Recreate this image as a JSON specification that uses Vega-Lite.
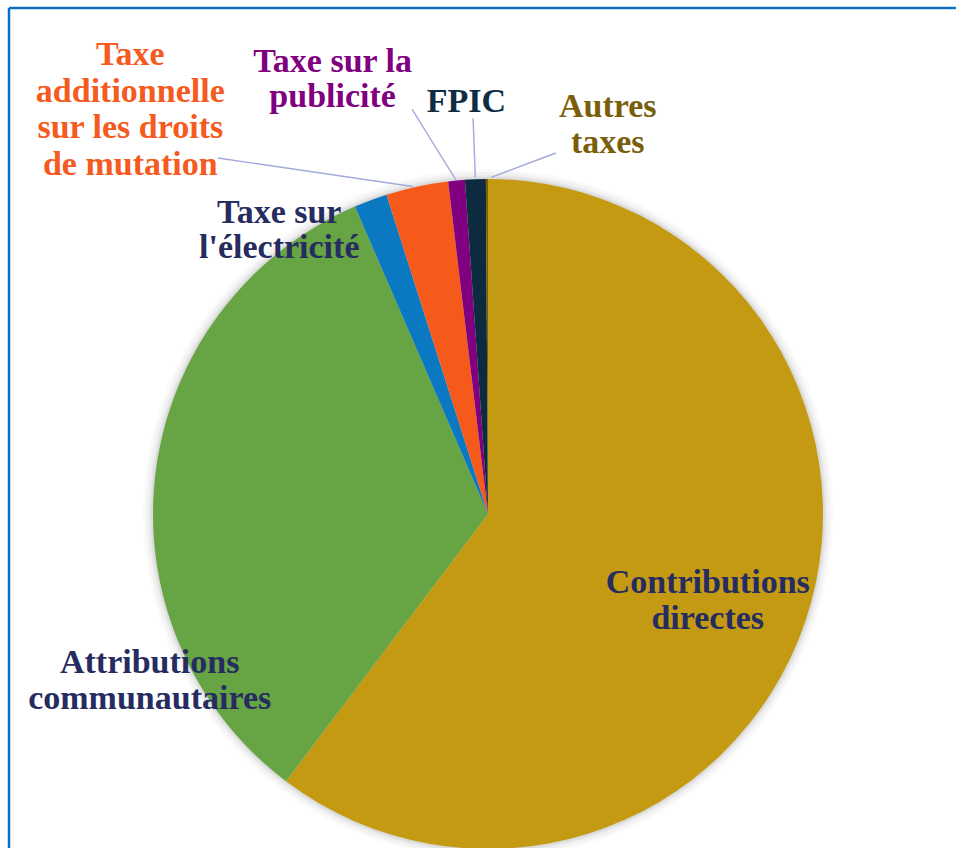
{
  "$schema": "https://vega.github.io/schema/vega-lite/v6.json",
  "width": 958,
  "height": 1012,
  "autosize": {"type": "none"},
  "padding": {"left": 9, "top": 8, "right": -11, "bottom": -172},
  "background": "white",
  "view": {"stroke": "#0B70C2", "strokeWidth": 2.5, "fill": null, "strokeDash": [947, 2153, 840, 0]},
  "data": {
    "values": [
      {"rang": 1, "categorie": "Contributions directes", "label": "Contributions\ndirectes", "part": 60.3},
      {"rang": 2, "categorie": "Attributions communautaires", "label": "Attributions\ncommunautaires", "part": 33.2},
      {"rang": 3, "categorie": "Taxe sur l'électricité", "label": "Taxe sur\nl'électricité", "part": 1.6},
      {"rang": 4, "categorie": "Taxe additionnelle sur les droits de mutation", "label": "Taxe\nadditionnelle\nsur les droits\nde mutation", "part": 3.0},
      {"rang": 5, "categorie": "Taxe sur la publicité", "label": "Taxe sur la\npublicité", "part": 0.8},
      {"rang": 6, "categorie": "FPIC", "label": "FPIC", "part": 1.0},
      {"rang": 7, "categorie": "Autres taxes", "label": "Autres\ntaxes", "part": 0.1}
    ]
  },
  "encoding": {
    "theta": {"field": "part", "type": "quantitative", "stack": true},
    "order": {"field": "rang", "type": "quantitative"},
    "detail": {"field": "categorie", "type": "nominal"}
  },
  "layer": [
    {"mark": {"type": "arc", "outerRadius": 345, "color": "#000000", "opacity": 0.02, "stroke": null}},
    {"mark": {"type": "arc", "outerRadius": 342, "color": "#000000", "opacity": 0.03, "stroke": null}},
    {"mark": {"type": "arc", "outerRadius": 339, "color": "#000000", "opacity": 0.04, "stroke": null}},
    {"mark": {"type": "arc", "outerRadius": 337, "color": "#000000", "opacity": 0.06, "stroke": null}},
    {
      "mark": {"type": "arc", "outerRadius": 335, "stroke": null},
      "encoding": {
        "color": {
          "field": "categorie",
          "type": "nominal",
          "legend": null,
          "scale": {
            "domain": ["Contributions directes", "Attributions communautaires", "Taxe sur l'électricité", "Taxe additionnelle sur les droits de mutation", "Taxe sur la publicité", "FPIC", "Autres taxes"],
            "range": ["#C49A13", "#67A443", "#0B79C1", "#F55A1B", "#800080", "#0D2B3F", "#7F6000"]
          }
        }
      }
    },
    {
      "mark": {"type": "arc", "outerRadius": 396, "innerRadius": 337, "padAngle": 0.2, "filled": false, "color": "#A2A9DC", "strokeWidth": 1.4},
      "encoding": {"opacity": {"condition": {"test": "datum.rang === 6", "value": 1}, "value": 0}}
    },
    {
      "mark": {"type": "arc", "outerRadius": 412, "innerRadius": 336, "padAngle": 0.5674, "thetaOffset": 1.93935, "filled": false, "color": "#A2A9DC", "strokeWidth": 1.4, "strokeDash": [0, 555, 83, 5000]},
      "encoding": {"opacity": {"condition": {"test": "datum.rang === 2", "value": 1}, "value": 0}}
    },
    {
      "mark": {"type": "arc", "outerRadius": 447, "innerRadius": 336, "padAngle": 1.1884, "thetaOffset": 4.8578, "filled": false, "color": "#A2A9DC", "strokeWidth": 1.4, "strokeDash": [0, 1000, 197, 5000]},
      "encoding": {"opacity": {"condition": {"test": "datum.rang === 1", "value": 1}, "value": 0}}
    },
    {
      "mark": {"type": "arc", "outerRadius": 367.3, "innerRadius": 336, "padAngle": 1.3644, "thetaOffset": -2.57838, "filled": false, "color": "#A2A9DC", "strokeWidth": 1.4, "strokeDash": [0, 1174, 70.5, 5000]},
      "encoding": {"opacity": {"condition": {"test": "datum.rang === 1", "value": 1}, "value": 0}}
    },
    {
      "mark": {"type": "text", "radius": 236, "dx": -4, "dy": -6, "font": "Liberation Serif", "fontWeight": "bold", "fontSize": 34, "lineHeight": 35.5, "lineBreak": "\n", "align": "center", "baseline": "middle", "color": "#262C60"},
      "encoding": {"text": {"condition": {"test": "datum.rang === 1", "field": "label"}, "value": ""}}
    },
    {
      "mark": {"type": "text", "radius": 377, "dx": 36, "dy": 194, "font": "Liberation Serif", "fontWeight": "bold", "fontSize": 34, "lineHeight": 36, "lineBreak": "\n", "align": "center", "baseline": "middle", "color": "#262C60"},
      "encoding": {"text": {"condition": {"test": "datum.rang === 2", "field": "label"}, "value": ""}}
    },
    {
      "mark": {"type": "text", "radius": 353, "dx": -85, "dy": 30, "font": "Liberation Serif", "fontWeight": "bold", "fontSize": 34, "lineHeight": 35, "lineBreak": "\n", "align": "center", "baseline": "middle", "color": "#262C60"},
      "encoding": {"text": {"condition": {"test": "datum.rang === 3", "field": "label"}, "value": ""}}
    },
    {
      "mark": {"type": "text", "radius": 541, "dx": -243, "dy": 70, "font": "Liberation Serif", "fontWeight": "bold", "fontSize": 34, "lineHeight": 36.5, "lineBreak": "\n", "align": "center", "baseline": "middle", "color": "#F55A1E"},
      "encoding": {"text": {"condition": {"test": "datum.rang === 4", "field": "label"}, "value": ""}}
    },
    {
      "mark": {"type": "text", "radius": 461, "dx": -112, "dy": 7, "font": "Liberation Serif", "fontWeight": "bold", "fontSize": 34, "lineHeight": 34.5, "lineBreak": "\n", "align": "center", "baseline": "middle", "color": "#800080"},
      "encoding": {"text": {"condition": {"test": "datum.rang === 5", "field": "label"}, "value": ""}}
    },
    {
      "mark": {"type": "text", "radius": 413, "dx": -6, "dy": 1, "font": "Liberation Serif", "fontWeight": "bold", "fontSize": 34, "lineHeight": 36, "lineBreak": "\n", "align": "center", "baseline": "middle", "color": "#0E2D44"},
      "encoding": {"text": {"condition": {"test": "datum.rang === 6", "field": "label"}, "value": ""}}
    },
    {
      "mark": {"type": "text", "radius": 407, "dx": 121, "dy": 0, "font": "Liberation Serif", "fontWeight": "bold", "fontSize": 34, "lineHeight": 36, "lineBreak": "\n", "align": "center", "baseline": "middle", "color": "#7A5E0B"},
      "encoding": {"text": {"condition": {"test": "datum.rang === 7", "field": "label"}, "value": ""}}
    }
  ]
}
